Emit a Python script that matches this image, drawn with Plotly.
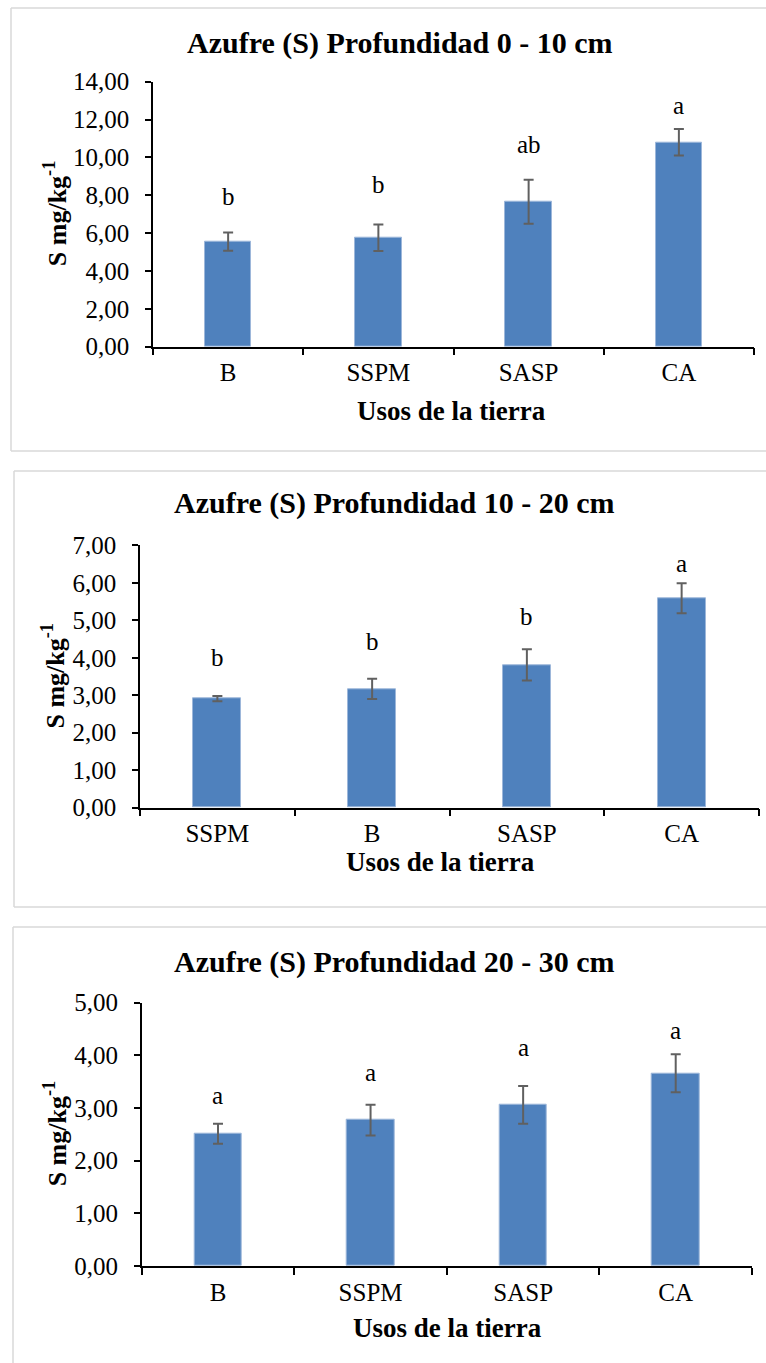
import plotly.graph_objects as go

W, H = 766, 1363

# Sulfur content (S mg/kg-1) by land use, three soil depths
cats_0_10 = ["B", "SSPM", "SASP", "CA"]
s_0_10 = [5.55, 5.75, 7.66, 10.80]
err_0_10 = [0.48, 0.70, 1.16, 0.70]
grp_0_10 = ["b", "b", "ab", "a"]

cats_10_20 = ["SSPM", "B", "SASP", "CA"]
s_10_20 = [2.91, 3.17, 3.81, 5.59]
err_10_20 = [0.07, 0.27, 0.42, 0.40]
grp_10_20 = ["b", "b", "b", "a"]

cats_20_30 = ["B", "SSPM", "SASP", "CA"]
s_20_30 = [2.51, 2.77, 3.06, 3.66]
err_20_30 = [0.19, 0.29, 0.36, 0.36]
grp_20_30 = ["a", "a", "a", "a"]

titles = ["Azufre (S) Profundidad 0 - 10 cm",
          "Azufre (S) Profundidad 10 - 20 cm",
          "Azufre (S) Profundidad 20 - 30 cm"]
y_max = [14, 7, 5]
y_step = [2, 1, 1]

SERIF = "'Liberation Serif', 'Times New Roman', Tinos, 'DejaVu Serif', serif"
BAR = "#4F81BD"
ERR = "#606060"

# Panel geometry in pixels
panels = [
    dict(frame=(11, 8, 451), plot=(153, 754, 81.7, 346.7), title=(400, 43),
         ytitle_x=55, xtitle=(452, 411), shifts=[36, 40, 35, 24]),
    dict(frame=(14, 471, 907), plot=(140, 759, 545.3, 807.7), title=(394, 503),
         ytitle_x=54, xtitle=(440, 862), shifts=[38, 37, 33, 20]),
    dict(frame=(13, 927, None), plot=(141.7, 752, 1002.7, 1266), title=(394, 962),
         ytitle_x=55, xtitle=(447, 1328), shifts=[28, 32, 38, 24]),
]

data = [
    (cats_0_10, s_0_10, err_0_10, grp_0_10),
    (cats_10_20, s_10_20, err_10_20, grp_10_20),
    (cats_20_30, s_20_30, err_20_30, grp_20_30),
]


def px(x):
    return x / W


def py(y):
    return 1 - y / H


fig = go.Figure()
shapes = []
annotations = []

for i, (p, (cats, vals, errs, grps)) in enumerate(zip(panels, data)):
    n = "" if i == 0 else str(i + 1)
    xa, ya = "x" + n, "y" + n
    fig.add_trace(go.Bar(
        x=cats, y=vals, xaxis=xa, yaxis=ya, width=0.31,
        marker=dict(color=BAR, line=dict(color="#9DB7DA", width=1)),
        error_y=dict(type="data", array=errs, visible=True,
                     color=ERR, thickness=2, width=5),
        showlegend=False, hoverinfo="skip",
    ))
    x0, x1, yt, yb = p["plot"]
    fig.update_layout(**{
        "xaxis" + n: dict(
            domain=[px(x0), px(x1)], anchor=ya, type="category", automargin=False,
            range=[-0.5, 3.5], showline=True, linecolor="black", linewidth=1.5,
            ticks="outside", tickson="boundaries", ticklen=7, tickwidth=1.5,
            tickcolor="black", showgrid=False, zeroline=False, ticklabelstandoff=3,
            tickfont=dict(family=SERIF, size=25, color="black"),
        ),
        "yaxis" + n: dict(
            domain=[py(yb), py(yt)], anchor=xa, automargin=False,
            range=[0, y_max[i]], dtick=y_step[i], tick0=0, tickformat=".2f",
            showline=True, linecolor="black", linewidth=1.5,
            ticks="outside", ticklen=6, tickwidth=1.5, tickcolor="black",
            showgrid=False, zeroline=False, ticklabelstandoff=11,
            tickfont=dict(family=SERIF, size=25, color="black"),
        ),
    })

    # light frame around each chart
    fl, ft, fb = p["frame"]
    shapes.append(dict(type="line", xref="paper", yref="paper",
                       x0=px(fl), x1=1.0, y0=py(ft), y1=py(ft),
                       line=dict(color="#D9D9D9", width=1.5)))
    shapes.append(dict(type="line", xref="paper", yref="paper",
                       x0=px(fl), x1=px(fl), y0=py(ft),
                       y1=py(fb) if fb is not None else 0,
                       line=dict(color="#D9D9D9", width=1.5)))
    if fb is not None:
        shapes.append(dict(type="line", xref="paper", yref="paper",
                           x0=px(fl), x1=1.0, y0=py(fb), y1=py(fb),
                           line=dict(color="#D9D9D9", width=1.5)))

    tx, ty = p["title"]
    annotations.append(dict(
        text="<b>" + titles[i] + "</b>", xref="paper", yref="paper",
        x=px(tx), y=py(ty), xanchor="center", yanchor="middle", showarrow=False,
        font=dict(family=SERIF, size=30, color="black")))
    annotations.append(dict(
        text="<b>S mg/kg<sup>-1</sup></b>", xref="paper", yref="paper",
        x=px(p["ytitle_x"]), y=py((yt + yb) / 2), textangle=-90,
        xanchor="center", yanchor="middle", showarrow=False,
        font=dict(family=SERIF, size=26, color="black")))
    xtx, xty = p["xtitle"]
    annotations.append(dict(
        text="<b>Usos de la tierra</b>", xref="paper", yref="paper",
        x=px(xtx), y=py(xty), xanchor="center", yanchor="middle", showarrow=False,
        font=dict(family=SERIF, size=27, color="black")))

    # significance letters above each error bar
    for c, v, e, g, s in zip(cats, vals, errs, grps, p["shifts"]):
        annotations.append(dict(
            text=g, xref=xa, yref=ya, x=c, y=v + e, yshift=s,
            xanchor="center", yanchor="middle", showarrow=False,
            font=dict(family=SERIF, size=25, color="black")))

fig.update_layout(
    width=W, height=H, margin=dict(l=0, r=0, t=0, b=0),
    paper_bgcolor="white", plot_bgcolor="white",
    separators=",.", shapes=shapes, annotations=annotations,
    bargap=0,
)

fig.write_html("out.html")
